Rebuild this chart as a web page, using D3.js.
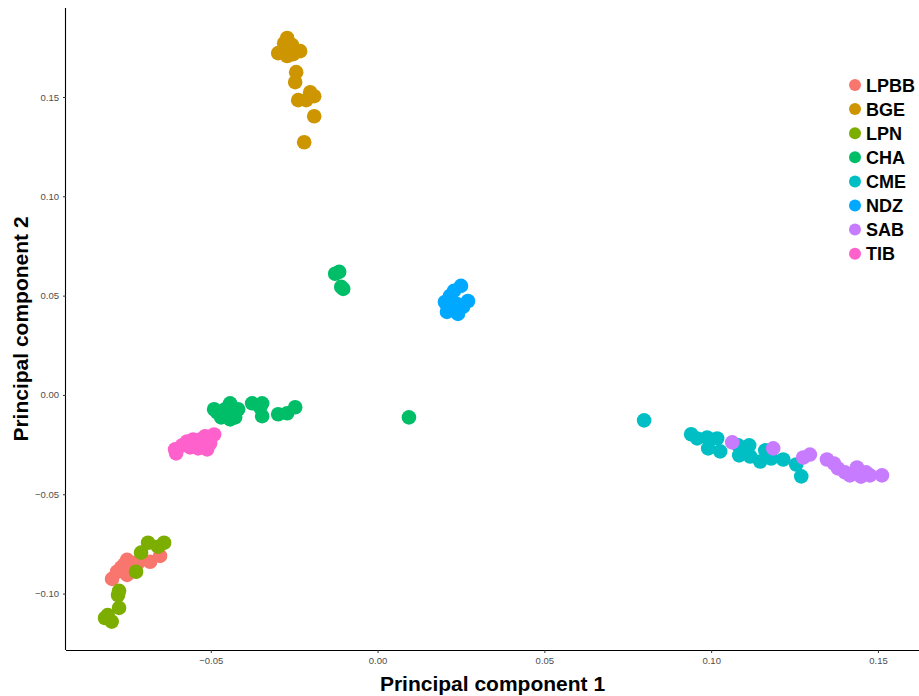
<!DOCTYPE html>
<html><head><meta charset="utf-8">
<script src="https://cdn.jsdelivr.net/npm/d3@7"></script>
<style>body{margin:0;background:#fff}svg{display:block;font-family:"Liberation Sans",Arial,sans-serif}</style>
</head><body><svg id="c" width="919" height="696"></svg>
<script>
const groups = ["LPBB","BGE","LPN","CHA","CME","NDZ","SAB","TIB"];
const colors = ["#F8766D","#CD9600","#7CAE00","#00BE67","#00BFC4","#00A9FF","#C77CFF","#FF61CC"];
const xTicks = [-0.05,0.00,0.05,0.10,0.15];
const yTicks = [-0.10,-0.05,0.00,0.05,0.10,0.15];
const LPBB = [[-0.0796,-0.0926],[-0.0781,-0.0890],[-0.0769,-0.0870],[-0.0751,-0.0830],[-0.0751,-0.0906],[-0.0736,-0.0845],[-0.0718,-0.0845],[-0.0682,-0.0840],[-0.0652,-0.0810],[-0.0760,-0.0855]];
const BGE = [[-0.0271,0.1797],[-0.0280,0.1771],[-0.0256,0.1761],[-0.0298,0.1721],[-0.0271,0.1706],[-0.0253,0.1716],[-0.0232,0.1731],[-0.0262,0.1736],[-0.0244,0.1625],[-0.0247,0.1575],[-0.0238,0.1484],[-0.0214,0.1484],[-0.0202,0.1524],[-0.0190,0.1504],[-0.0190,0.1403],[-0.0220,0.1272]];
const LPN = [[-0.0688,-0.0744],[-0.0640,-0.0744],[-0.0658,-0.0764],[-0.0709,-0.0794],[-0.0724,-0.0890],[-0.0775,-0.0986],[-0.0778,-0.1007],[-0.0775,-0.1072],[-0.0809,-0.1108],[-0.0817,-0.1123],[-0.0797,-0.1141]];
const CHA = [[-0.0490,-0.0072],[-0.0481,-0.0088],[-0.0469,-0.0113],[-0.0457,-0.0072],[-0.0442,-0.0042],[-0.0442,-0.0123],[-0.0427,-0.0113],[-0.0418,-0.0072],[-0.0376,-0.0042],[-0.0352,-0.0062],[-0.0346,-0.0107],[-0.0346,-0.0042],[-0.0298,-0.0097],[-0.0271,-0.0092],[-0.0247,-0.0062],[-0.0127,0.0610],[-0.0115,0.0620],[-0.0109,0.0544],[-0.0103,0.0534],[0.0094,-0.0113]];
const CME = [[0.0799,-0.0128],[0.0940,-0.0198],[0.0958,-0.0219],[0.0988,-0.0214],[0.0991,-0.0269],[0.1018,-0.0219],[0.1027,-0.0284],[0.1081,-0.0254],[0.1084,-0.0304],[0.1099,-0.0289],[0.1114,-0.0254],[0.1117,-0.0310],[0.1147,-0.0335],[0.1162,-0.0279],[0.1180,-0.0320],[0.1216,-0.0325],[0.1255,-0.0350],[0.1270,-0.0410]];
const NDZ = [[0.0250,0.0549],[0.0229,0.0524],[0.0217,0.0499],[0.0271,0.0473],[0.0202,0.0468],[0.0238,0.0458],[0.0208,0.0418],[0.0241,0.0408],[0.0223,0.0443],[0.0256,0.0443],[0.0211,0.0438]];
const SAB = [[0.1063,-0.0239],[0.1186,-0.0269],[0.1276,-0.0315],[0.1296,-0.0300],[0.1347,-0.0325],[0.1368,-0.0345],[0.1380,-0.0370],[0.1401,-0.0390],[0.1416,-0.0405],[0.1437,-0.0365],[0.1449,-0.0411],[0.1464,-0.0390],[0.1476,-0.0405],[0.1512,-0.0405]];
const TIB = [[-0.0607,-0.0274],[-0.0604,-0.0294],[-0.0586,-0.0254],[-0.0571,-0.0234],[-0.0553,-0.0224],[-0.0538,-0.0269],[-0.0532,-0.0224],[-0.0517,-0.0208],[-0.0511,-0.0274],[-0.0502,-0.0244],[-0.0490,-0.0199],[-0.0562,-0.0264]];
const series = [LPBB,BGE,LPN,CHA,CME,NDZ,SAB,TIB];

const svg = d3.select("#c");
const L=66, R=919, T=8, B=650;
const x = d3.scaleLinear().domain([-0.0934,0.1623]).range([L,R]);
const y = d3.scaleLinear().domain([-0.1284,0.1948]).range([B,T]);
const color = d3.scaleOrdinal().domain(groups).range(colors);

const gx = svg.append("g").attr("transform",`translate(0,${B})`)
  .call(d3.axisBottom(x).tickValues(xTicks).tickFormat(d3.format(".2f")).tickSize(3).tickPadding(4));
const gy = svg.append("g").attr("transform",`translate(${L},0)`)
  .call(d3.axisLeft(y).tickValues(yTicks).tickFormat(d3.format(".2f")).tickSize(3).tickPadding(4));
[gx,gy].forEach(g=>{
  g.select(".domain").attr("stroke","#000").attr("stroke-width",1.1);
  g.selectAll(".tick line").attr("stroke","#333");
  g.selectAll(".tick text").attr("fill","#4D4D4D").style("font-size","9.5px").style("font-family","Liberation Sans, Arial, sans-serif");
});
gx.select(".domain").attr("d",`M${L},0.5H${R}`);
gy.select(".domain").attr("d",`M-0.5,${T}V${B}`);

const pts = svg.append("g");
series.forEach((s,i)=>{
  pts.selectAll(null).data(s).enter().append("circle")
    .attr("cx",d=>x(d[0])).attr("cy",d=>y(d[1])).attr("r",7.3)
    .attr("fill",color(groups[i]));
});

svg.append("text").attr("x",(L+R)/2).attr("y",691).attr("text-anchor","middle")
  .style("font-size","21px").style("font-weight","bold").text("Principal component 1");
svg.append("text").attr("transform",`translate(28,${(T+B)/2}) rotate(-90)`).attr("text-anchor","middle")
  .style("font-size","21px").style("font-weight","bold").text("Principal component 2");

const lg = svg.append("g");
groups.forEach((g,i)=>{
  const yy = 85 + i*24.1;
  lg.append("circle").attr("cx",855).attr("cy",yy).attr("r",6).attr("fill",color(g));
  lg.append("text").attr("x",866).attr("y",yy+6.5).style("font-size","18px").style("font-weight","bold").text(g);
});
</script></body></html>
